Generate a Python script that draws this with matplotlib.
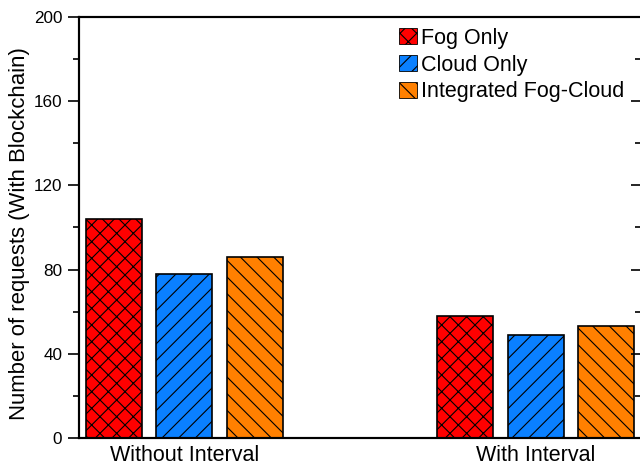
import numpy as np
import matplotlib
matplotlib.use('Agg')
import matplotlib.pyplot as plt
from matplotlib.ticker import MultipleLocator
from matplotlib.patches import Patch

groups = ['Without Interval', 'With Interval']
series = ['Fog Only', 'Cloud Only', 'Integrated Fog-Cloud']
fog_only = [104, 58]
cloud_only = [78, 49]
fog_cloud = [86, 53]

colors = ['#FF0000', '#0A80FF', '#FF8000']
hatches = ['xx', '//', '\\\\']

plt.rcParams['font.family'] = ['Liberation Sans', 'DejaVu Sans']
plt.rcParams['hatch.linewidth'] = 0.8


def main():
  fig = plt.figure(figsize=(6.4, 4.69), dpi=100)
  ax = fig.add_axes([79 / 640, 31 / 469, 562 / 640, 421 / 469])

  x = np.arange(len(groups))
  width = 0.16
  step = 0.2
  values = [fog_only, cloud_only, fog_cloud]
  for i, vals in enumerate(values):
    ax.bar(x + (i - 1) * step, vals, width, color=colors[i], hatch=hatches[i],
           edgecolor='black', linewidth=1.2, zorder=2)

  ax.set_xlim(-0.3, 1.3)
  ax.set_ylim(0, 200)
  ax.set_xticks(x)
  ax.set_xticklabels(groups, fontsize=15.5)
  ax.yaxis.set_major_locator(MultipleLocator(40))
  ax.yaxis.set_minor_locator(MultipleLocator(20))
  ax.tick_params(axis='x', length=0, pad=5)
  ax.tick_params(axis='y', which='major', labelsize=12.3, length=8, width=1.2, pad=4,
                 direction='out', left=True, right=False)
  ax.tick_params(axis='y', which='minor', length=4.5, width=1.2, direction='out',
                 left=True, right=False)

  # inward ticks on the right spine
  ax2 = ax.twinx()
  ax2.set_ylim(0, 200)
  ax2.yaxis.set_major_locator(MultipleLocator(40))
  ax2.yaxis.set_minor_locator(MultipleLocator(20))
  ax2.tick_params(axis='y', which='major', length=7, width=1.2, direction='in', labelright=False)
  ax2.tick_params(axis='y', which='minor', length=4, width=1.2, direction='in')
  for a in (ax, ax2):
    for s in a.spines.values():
      s.set_linewidth(1.5)

  ax.set_ylabel('Number of requests (With Blockchain)', fontsize=15.9)
  ax.yaxis.set_label_coords(-0.088, 0.486)

  handles = [Patch(facecolor=colors[i], hatch=hatches[i], edgecolor='black', linewidth=0.6)
             for i in range(3)]
  ax.legend(handles, series, loc='upper left', bbox_to_anchor=(0.551, 1.0), frameon=False,
            fontsize=15.5, handlelength=0.8, handleheight=0.75, handletextpad=0.2,
            labelspacing=0.27, borderaxespad=0.1)

  fig.savefig('out.png', dpi=100)


if __name__ == '__main__':
  main()
